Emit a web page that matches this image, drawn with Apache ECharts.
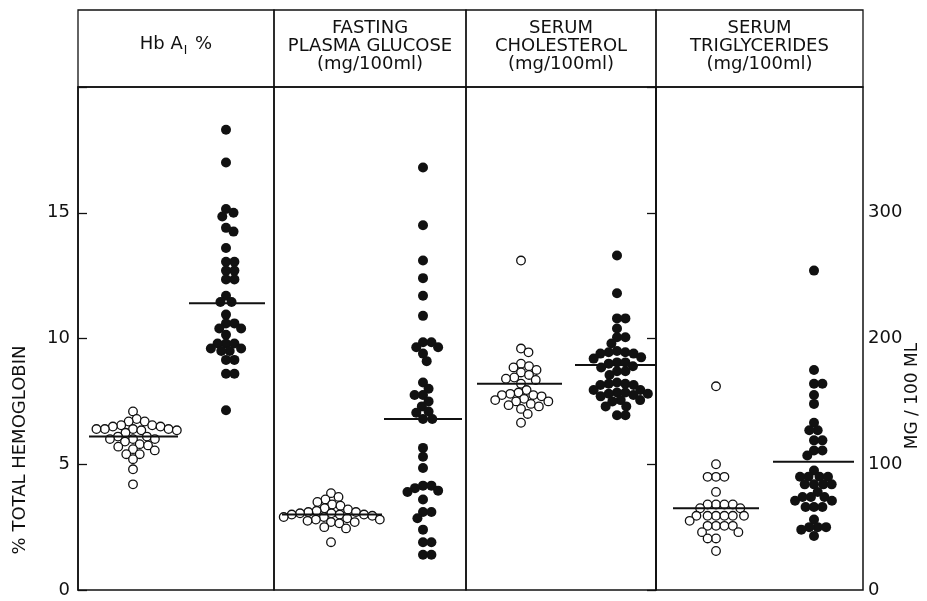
<!DOCTYPE html>
<html>
<head>
<meta charset="utf-8">
<script src="https://cdn.jsdelivr.net/npm/echarts@6/dist/echarts.min.js"></script>
<style>
  html, body { margin: 0; padding: 0; background: #fff; }
  #chart { width: 927px; height: 601px; }
</style>
</head>
<body>
<div id="chart"></div>
<script>
// panel titles
var panelTitles = [
    '{a|Hb A}{b|I}{a| %}',
    'FASTING\nPLASMA GLUCOSE\n(mg/100ml)',
    'SERUM\nCHOLESTEROL\n(mg/100ml)',
    'SERUM\nTRIGLYCERIDES\n(mg/100ml)'
];
var leftTicks = [0, 5, 10, 15];
var rightTicks = [0, 100, 200, 300];

// Hb A1 (% total hemoglobin) - controls (open) / diabetics (filled)
var hbControl = [7.1, 6.8, 6.7, 6.7, 6.55, 6.55, 6.5, 6.5, 6.4, 6.4, 6.4, 6.4, 6.35, 6.35, 6.25, 6.1,
    6.1, 6.0, 6.0, 6.0, 5.9, 5.8, 5.75, 5.7, 5.6, 5.55, 5.4, 5.4, 5.2, 4.8, 4.2];
var hbDiabetic = [18.3, 17.0, 15.15, 15.0, 14.85, 14.4, 14.25, 13.6, 13.05, 13.05, 12.7, 12.7, 12.35,
    12.35, 11.7, 11.45, 11.45, 10.95, 10.6, 10.6, 10.4, 10.4, 10.15, 9.8, 9.8, 9.8, 9.6, 9.6, 9.5,
    9.5, 9.15, 9.15, 8.6, 8.6, 7.15];
var hbMeans = [6.1, 11.4];

// fasting plasma glucose (mg/100ml)
var glucoseControl = [77, 74, 72, 70, 68, 67, 65, 64, 63, 62, 62, 61, 61, 60, 60, 60, 59, 58, 58, 57,
    56, 56, 55, 54, 54, 53, 50, 49, 38];
var glucoseDiabetic = [336, 290, 262, 248, 234, 218, 197, 197, 193, 193, 188, 182, 165, 160, 155, 155,
    150, 146, 142, 141, 136, 136, 113, 106, 97, 83, 83, 81, 79, 78, 72, 62, 62, 57, 48, 38, 38, 28, 28];
var glucoseMeans = [60, 136];

// serum cholesterol (mg/100ml)
var cholControl = [262, 192, 189, 180, 178, 177, 175, 173, 171, 169, 168, 167, 164, 159, 157, 156, 155,
    155, 154, 152, 151, 150, 150, 148, 147, 146, 144, 140, 133];
var cholDiabetic = [266, 236, 216, 216, 208, 201, 201, 196, 190, 189, 189, 188, 188, 185, 184, 181, 181,
    180, 178, 177, 174, 174, 171, 165, 164, 164, 163, 163, 159, 159, 157, 157, 156, 156, 155, 154,
    151, 151, 150, 146, 146, 139, 139];
var cholMeans = [164, 179];

// serum triglycerides (mg/100ml)
var trigControl = [162, 100, 90, 90, 90, 78, 68, 68, 68, 68, 65, 65, 59, 59, 59, 59, 59, 59, 55, 51, 51,
    51, 51, 46, 46, 41, 41, 31];
var trigDiabetic = [254, 175, 164, 164, 155, 148, 133, 127, 127, 119, 119, 111, 111, 107, 95, 90, 90, 90,
    90, 84, 84, 84, 84, 78, 74, 74, 74, 71, 71, 66, 66, 66, 56, 50, 50, 50, 48, 43];
var trigMeans = [65, 102];

var groups = [
    [hbControl, hbDiabetic, hbMeans],
    [glucoseControl, glucoseDiabetic, glucoseMeans],
    [cholControl, cholDiabetic, cholMeans],
    [trigControl, trigDiabetic, trigMeans]
];

// layout (pixels)
var TOP = 87, HEAD_TOP = 10, PLOT_H = 503;
var panels = [
    { left: 78,  width: 196, max: 20,  centers: [133, 226], spans: [[89, 178], [189, 265]] },
    { left: 274, width: 192, max: 400, centers: [331, 423], spans: [[282, 382], [384, 462]] },
    { left: 466, width: 190, max: 400, centers: [521, 617], spans: [[477, 562], [575, 655]] },
    { left: 656, width: 207, max: 400, centers: [716, 814], spans: [[673, 759], [773, 854]] }
];
var FONT = 'DejaVu Sans';

// simple beeswarm: nearest-to-centre free spot for each dot
function swarm(values, pxPerUnit, d) {
    var placed = [], out = [];
    var order = values.map(function (v, i) { return i; })
        .sort(function (a, b) { return values[b] - values[a]; });
    order.forEach(function (i) {
        var y = values[i] * pxPerUnit;
        var cands = [0];
        placed.forEach(function (p) {
            var dy = Math.abs(p.y - y);
            if (dy < d) {
                var dx = Math.sqrt(d * d - dy * dy);
                cands.push(p.x + dx, p.x - dx);
            }
        });
        cands.sort(function (a, b) { return Math.abs(a) - Math.abs(b); });
        var x = 0;
        for (var k = 0; k < cands.length; k++) {
            var c = cands[k], ok = true;
            for (var j = 0; j < placed.length; j++) {
                var ddx = placed[j].x - c, ddy = placed[j].y - y;
                if (ddx * ddx + ddy * ddy < d * d - 0.01) { ok = false; break; }
            }
            if (ok) { x = c; break; }
        }
        placed.push({ x: x, y: y });
        out[i] = x;
    });
    return out;
}

var grids = [], xAxes = [], yAxes = [], series = [], titles = [];

panels.forEach(function (p, i) {
    grids.push({ left: p.left, top: TOP, width: p.width, height: PLOT_H, show: true,
        borderColor: '#111', borderWidth: 1.5 });
    xAxes.push({ gridIndex: i, type: 'value', min: 0, max: 1, show: false });
});
panels.forEach(function (p, i) {
    grids.push({ left: p.left, top: HEAD_TOP, width: p.width, height: TOP - HEAD_TOP, show: true,
        borderColor: '#111', borderWidth: 1.3 });
    xAxes.push({ gridIndex: 4 + i, type: 'value', min: 0, max: 1, show: false });
});

function visibleAxis(idx, pos, max, ticks) {
    return {
        gridIndex: idx, type: 'value', position: pos, min: 0, max: max, interval: max / 4,
        axisLine: { show: true, lineStyle: { color: '#111', width: 1.5 } },
        axisTick: { show: true, inside: true, length: 9, lineStyle: { color: '#111', width: 1.3 } },
        axisLabel: {
            color: '#111', fontSize: 18, fontFamily: FONT, margin: pos === 'left' ? 8 : 5,
            formatter: function (v) { return ticks.indexOf(v) >= 0 ? String(v) : ''; }
        },
        splitLine: { show: false }
    };
}
yAxes = [
    visibleAxis(0, 'left', 20, leftTicks),
    { gridIndex: 1, type: 'value', min: 0, max: 400, show: false },
    { gridIndex: 2, type: 'value', min: 0, max: 400, show: false },
    visibleAxis(3, 'right', 400, rightTicks)
];
for (var h = 0; h < 4; h++) {
    yAxes.push({ gridIndex: 4 + h, type: 'value', min: 0, max: 1, show: false });
}

panels.forEach(function (p, i) {
    var g = groups[i];
    var ppu = PLOT_H / p.max;
    [0, 1].forEach(function (k) {
        var vals = g[k];
        var offs = swarm(vals, ppu, 8.4);
        var cx = (p.centers[k] - p.left) / p.width;
        series.push({
            type: 'scatter', xAxisIndex: i, yAxisIndex: i,
            symbol: 'circle', symbolSize: k === 0 ? 8.6 : 10,
            itemStyle: k === 0
                ? { color: '#fff', borderColor: '#111', borderWidth: 1.3, opacity: 1 }
                : { color: '#111', opacity: 1 },
            data: vals.map(function (v, n) { return [cx + offs[n] / p.width, v]; }),
            z: 2
        });
        series.push({
            type: 'line', xAxisIndex: i, yAxisIndex: i, symbol: 'none', z: 3,
            lineStyle: { color: '#111', width: 2 },
            data: [[(p.spans[k][0] - p.left) / p.width, g[2][k]],
                   [(p.spans[k][1] - p.left) / p.width, g[2][k]]]
        });
    });
    titles.push({
        text: panelTitles[i],
        left: p.left + p.width / 2,
        top: i === 0 ? 35 : 19,
        textAlign: 'center',
        padding: 0,
        textStyle: {
            fontFamily: FONT, fontSize: 18, fontWeight: 'normal', color: '#111', lineHeight: 18,
            rich: {
                a: { fontFamily: FONT, fontSize: 18, color: '#111', lineHeight: 22, verticalAlign: 'top' },
                b: { fontFamily: FONT, fontSize: 12, color: '#111', lineHeight: 22, verticalAlign: 'top',
                     padding: [10, 2, 0, 1] }
            }
        }
    });
});

var option = {
    animation: false,
    backgroundColor: '#fff',
    title: titles,
    grid: grids,
    xAxis: xAxes,
    yAxis: yAxes,
    graphic: [
        { type: 'text', x: 20, y: 450, rotation: Math.PI / 2,
          style: { text: '% TOTAL HEMOGLOBIN', fontSize: 18, fontFamily: FONT, fill: '#111',
                   align: 'center', verticalAlign: 'middle' } },
        { type: 'text', x: 913, y: 396, rotation: Math.PI / 2,
          style: { text: 'MG / 100 ML', fontSize: 17, fontFamily: FONT, fill: '#111',
                   align: 'center', verticalAlign: 'middle' } }
    ],
    series: series
};

echarts.init(document.getElementById('chart')).setOption(option);
</script>
</body>
</html>
